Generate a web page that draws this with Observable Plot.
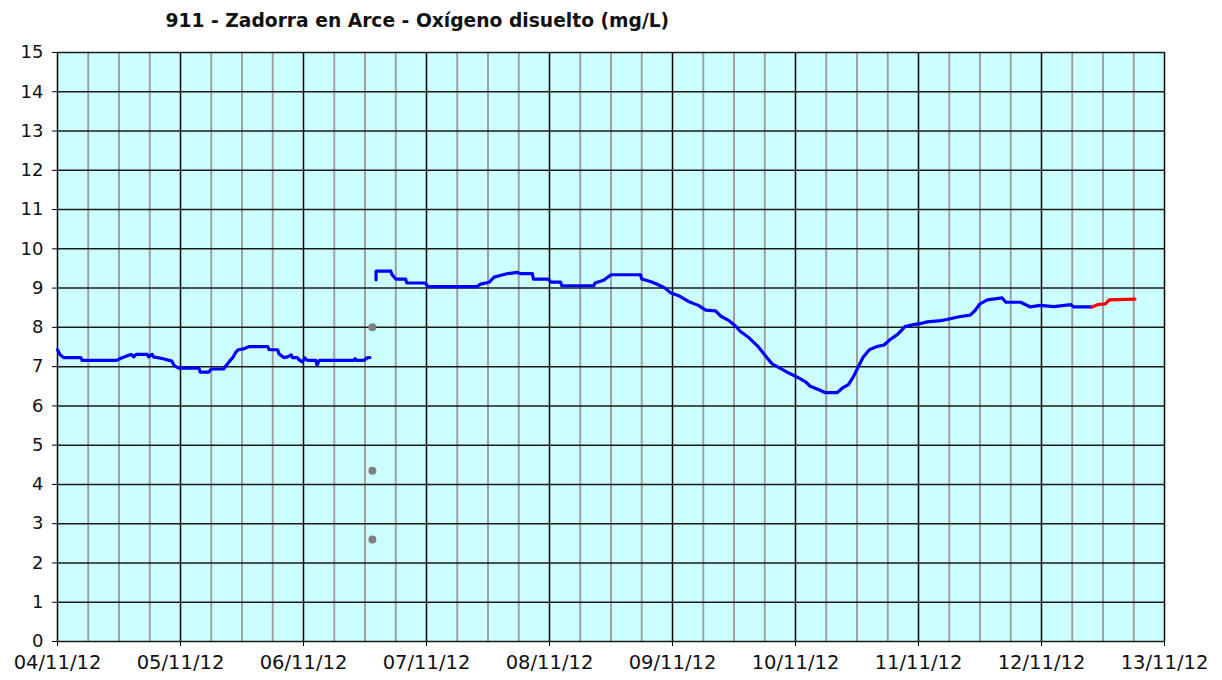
<!DOCTYPE html>
<html><head><meta charset="utf-8">
<script src="https://cdn.jsdelivr.net/npm/d3@7"></script>
<script src="https://cdn.jsdelivr.net/npm/@observablehq/plot@0.6"></script>
<style>body{margin:0;background:#fff}</style>
</head><body><div id="chart"></div>
<script>
const title = "911 - Zadorra en Arce - Oxígeno disuelto (mg/L)";
const startMs = Date.UTC(2012, 10, 4);
const dayCount = 9;
const yTickValues = [0,1,2,3,4,5,6,7,8,9,10,11,12,13,14,15];

// day offsets from 04/11/12 00:00 and values (mg/L)
const seg1Days = [0,0.02,0.05,0.19,0.2,0.48,0.52,0.57,0.6,0.62,0.64,0.73,0.74,0.77,0.78,0.86,0.93,0.95,0.99,1.15,1.16,1.23,1.25,1.35,1.37,1.4,1.43,1.45,1.47,1.52,1.56,1.71,1.72,1.79,1.8,1.84,1.87,1.9,1.91,1.95,1.97,1.99,2.01,2.03,2.1,2.11,2.13,2.41,2.42,2.43,2.49,2.52,2.54];
const seg1Vals = [7.43,7.31,7.23,7.23,7.16,7.16,7.22,7.28,7.31,7.25,7.31,7.31,7.25,7.31,7.25,7.2,7.14,7.02,6.96,6.96,6.86,6.86,6.94,6.94,7.02,7.14,7.25,7.37,7.43,7.46,7.51,7.51,7.43,7.43,7.33,7.23,7.25,7.3,7.23,7.23,7.16,7.12,7.22,7.16,7.16,7.04,7.16,7.16,7.2,7.16,7.16,7.23,7.23];

const seg2Days = [2.59,2.59,2.71,2.72,2.75,2.83,2.84,2.99,3.01,3.41,3.44,3.51,3.55,3.6,3.66,3.74,3.76,3.86,3.87,3.99,4.01,4.09,4.1,4.36,4.37,4.44,4.5,4.74,4.75,4.82,4.88,4.94,4.98,5.06,5.13,5.21,5.27,5.35,5.39,5.46,5.51,5.55,5.62,5.69,5.76,5.81,5.88,5.95,6.01,6.08,6.12,6.19,6.24,6.34,6.38,6.43,6.47,6.53,6.55,6.6,6.66,6.72,6.77,6.83,6.89,6.96,7.02,7.07,7.18,7.23,7.33,7.42,7.46,7.5,7.56,7.68,7.71,7.83,7.91,7.99,8.1,8.24,8.26,8.41];
const seg2Vals = [9.21,9.43,9.43,9.34,9.23,9.23,9.13,9.13,9.04,9.04,9.1,9.15,9.28,9.32,9.37,9.4,9.37,9.37,9.23,9.23,9.15,9.15,9.06,9.06,9.13,9.2,9.34,9.34,9.23,9.17,9.09,9.0,8.89,8.79,8.66,8.56,8.44,8.42,8.29,8.17,8.04,7.9,7.74,7.53,7.26,7.07,6.95,6.83,6.74,6.62,6.5,6.41,6.34,6.34,6.45,6.54,6.74,7.12,7.24,7.43,7.51,7.55,7.69,7.82,8.02,8.07,8.1,8.14,8.17,8.2,8.27,8.31,8.43,8.6,8.7,8.75,8.64,8.64,8.52,8.56,8.53,8.58,8.52,8.52];

const redDays = [8.41,8.46,8.52,8.55,8.76];
const redVals = [8.52,8.58,8.6,8.7,8.72];

const grayDays = [2.56,2.56,2.56];
const grayVals = [8.0,4.35,2.6];

const toDate = d => new Date(startMs + d * 864e5);
const rows = (days, vals) => days.map((d, i) => ({t: toDate(d), v: vals[i]}));

const dayTicks = d3.range(0, dayCount + 1).map(toDate);
const quarterTicks = d3.range(0, dayCount * 4 + 1).filter(i => i % 4 !== 0).map(i => toDate(i / 4));

const chart = Plot.plot({
  width: 1222, height: 680,
  marginLeft: 57, marginRight: 58, marginTop: 52, marginBottom: 39,
  style: {fontFamily: "DejaVu Sans", fontSize: "18px", background: "#fff", color: "#000"},
  x: {type: "utc", domain: [toDate(0), toDate(dayCount)]},
  y: {domain: [0, 15]},
  marks: [
    Plot.frame({fill: "#ccffff", stroke: null}),
    Plot.ruleX(quarterTicks, {stroke: "#a0a0a0", strokeWidth: 2}),
    Plot.ruleX(dayTicks, {stroke: "#000", strokeWidth: 1.5}),
    Plot.ruleY(yTickValues, {stroke: "#1a1a1a", strokeWidth: 1.5}),
    Plot.axisY({ticks: yTickValues, tickSize: 5, tickPadding: 9, label: null, fontSize: 18, fill: "#111"}),
    Plot.axisX({ticks: dayTicks, tickSize: 5, tickPadding: 9, tickFormat: d3.utcFormat("%d/%m/%y"), label: null, fontSize: 19.5, fill: "#111"}),
    Plot.line(rows(seg1Days, seg1Vals), {x: "t", y: "v", stroke: "#0000ff", strokeWidth: 3.2}),
    Plot.line(rows(seg2Days, seg2Vals), {x: "t", y: "v", stroke: "#0000ff", strokeWidth: 3.2}),
    Plot.line(rows(redDays, redVals), {x: "t", y: "v", stroke: "#ff0000", strokeWidth: 3.2}),
    Plot.dot(rows(grayDays, grayVals), {x: "t", y: "v", fill: "#808080", stroke: null, r: 4}),
    Plot.text([title], {frameAnchor: "top-left", dx: 108, dy: -31, textAnchor: "start", lineAnchor: "middle", fontWeight: "bold", fontSize: 18.7, fill: "#111"})
  ]
});
document.getElementById("chart").appendChild(chart);
</script>
</body></html>
